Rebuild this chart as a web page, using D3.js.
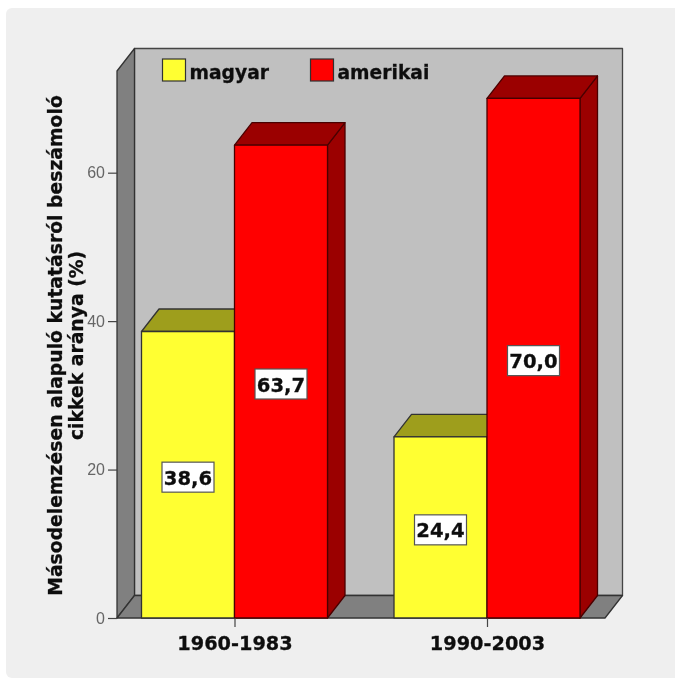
<!DOCTYPE html>
<html>
<head>
  <meta charset="utf-8">
  <style>
    html, body { margin: 0; padding: 0; background: #fff; }
    svg { display: block; }
    text { font-family: "DejaVu Sans", sans-serif; }
    .bold { font-weight: bold; fill: #111; stroke: #111; stroke-width: 0.3; }
  </style>
</head>
<body>
<div id="chart"></div>
<script src="https://d3js.org/d3.v7.min.js"></script>
<script>
const periods = ["1960-1983", "1990-2003"];
const seriesNames = ["magyar", "amerikai"];
const magyarValues = [38.6, 24.4];
const amerikaiValues = [63.7, 70.0];
const yTicks = [0, 20, 40, 60];
const yTitleLines = ["Másodelemzésen alapuló kutatásról beszámoló", "cikkek aránya (%)"];

const width = 675, height = 679;
const depthX = 17.5, depthY = 22.5;
const barW = 93;
const frontColor = { magyar: "#ffff33", amerikai: "#ff0000" };
const darkColor = { magyar: "#9e9e1e", amerikai: "#9b0000" };
const edgeColor = { magyar: "#333", amerikai: "#4a0000" };

const root = d3.select("#chart").append("svg")
  .attr("width", width)
  .attr("height", height);

// the source is a soft scan, so everything gets a very slight blur
root.append("filter").attr("id", "soft")
  .append("feGaussianBlur").attr("stdDeviation", 0.35);

const svg = root.append("g").attr("filter", "url(#soft)");

svg.append("rect")
  .attr("x", 6).attr("y", 8)
  .attr("width", width).attr("height", 670)
  .attr("rx", 6)
  .attr("fill", "#efefef");

const y = d3.scaleLinear().domain([0, 73.7]).range([618, 71]);
const x = d3.scalePoint().domain(periods).range([234.5, 487]);

const left = 117, right = 605;
const top3d = y.range()[1];
const y0 = y(0);

function poly(points, fill, stroke) {
  return svg.append("polygon")
    .attr("points", points.map(p => p.join(",")).join(" "))
    .attr("fill", fill)
    .attr("stroke", stroke)
    .attr("stroke-width", 1.3)
    .attr("stroke-linejoin", "round");
}

// back wall, left wall, floor
poly([[left + depthX, top3d - depthY], [right + depthX, top3d - depthY], [right + depthX, y0 - depthY], [left + depthX, y0 - depthY]], "#c0c0c0", "#444");
poly([[left, top3d], [left + depthX, top3d - depthY], [left + depthX, y0 - depthY], [left, y0]], "#808080", "#333");
poly([[left, y0], [left + depthX, y0 - depthY], [right + depthX, y0 - depthY], [right, y0]], "#808080", "#333");

// bars, yellow first so red sits in front of its top face
const seriesValues = [magyarValues, amerikaiValues];
seriesNames.forEach((name, s) => {
  periods.forEach((p, i) => {
    const x0 = s === 0 ? x(p) - barW : x(p);
    const x1 = x0 + barW;
    const yt = y(seriesValues[s][i]);
    poly([[x1, y0], [x1 + depthX, y0 - depthY], [x1 + depthX, yt - depthY], [x1, yt]], darkColor[name], edgeColor[name]);
    poly([[x0, yt], [x0 + depthX, yt - depthY], [x1 + depthX, yt - depthY], [x1, yt]], darkColor[name], edgeColor[name]);
    poly([[x0, yt], [x1, yt], [x1, y0], [x0, y0]], frontColor[name], edgeColor[name]);
  });
});

// axes
const yAxis = svg.append("g")
  .attr("transform", `translate(${left},0)`)
  .call(d3.axisLeft(y).tickValues(yTicks).tickSize(9).tickPadding(3));
yAxis.select(".domain").remove();
yAxis.selectAll("line").attr("stroke", "#444").attr("stroke-width", 1.2);
yAxis.selectAll("text").attr("font-size", 16).attr("fill", "#666").style("font-family", "'Liberation Sans', sans-serif");

const xAxis = svg.append("g")
  .attr("transform", `translate(0,${y0})`)
  .call(d3.axisBottom(x).tickSize(9).tickPadding(9));
xAxis.select(".domain").remove();
xAxis.selectAll("line").attr("stroke", "#444").attr("stroke-width", 1.2);
xAxis.selectAll("text").attr("class", "bold").attr("font-size", 19.3);

// y title
const title = svg.append("text")
  .attr("class", "bold")
  .attr("transform", "translate(61.5,345.5) rotate(-90)")
  .attr("text-anchor", "middle")
  .attr("font-size", 18.8);
yTitleLines.forEach((line, i) => {
  title.append("tspan").attr("x", 0).attr("y", i * 21).text(line);
});

// value labels
seriesNames.forEach((name, s) => {
  periods.forEach((p, i) => {
    const cx = s === 0 ? x(p) - barW / 2 : x(p) + barW / 2;
    const cy = y(seriesValues[s][i] / 2) + 2.4;
    const g = svg.append("g").attr("transform", `translate(${cx},${cy})`);
    g.append("rect")
      .attr("x", -26).attr("y", -15)
      .attr("width", 52).attr("height", 30)
      .attr("fill", "#fff")
      .attr("stroke", "#555")
      .attr("stroke-width", 1.2);
    g.append("text")
      .attr("class", "bold")
      .attr("text-anchor", "middle")
      .attr("dy", 7.5)
      .attr("font-size", 19.6)
      .text(seriesValues[s][i].toFixed(1).replace(".", ","));
  });
});

// legend
const legendX = [162.5, 310.5];
seriesNames.forEach((name, s) => {
  svg.append("rect")
    .attr("x", legendX[s]).attr("y", 59)
    .attr("width", 23).attr("height", 22)
    .attr("fill", frontColor[name])
    .attr("stroke", "#333")
    .attr("stroke-width", 1.2);
  svg.append("text")
    .attr("class", "bold")
    .attr("x", legendX[s] + 27).attr("y", 78.5)
    .attr("font-size", 18.7)
    .text(name);
});
</script>
</body>
</html>
